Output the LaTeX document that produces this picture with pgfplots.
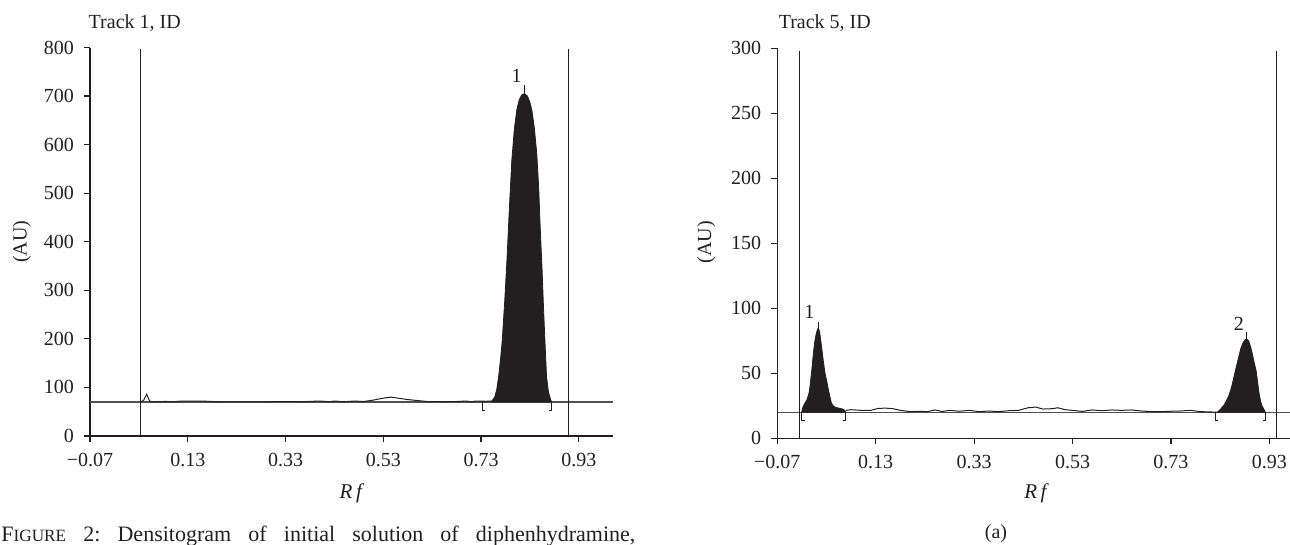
\documentclass[border=0pt]{standalone}
\usepackage{fontspec}
\setmainfont{Liberation Serif}
\usepackage{pgfplots}
\pgfplotsset{compat=1.18}
\definecolor{ink}{RGB}{35,31,32}
\definecolor{base}{RGB}{80,80,80}
\pgfplotsset{dens/.style={
  scale only axis, axis x line=bottom, axis y line=left,
  axis line style={-, line width=0.6pt, ink},
  tick align=outside, major tick length=3pt,
  tick style={line width=0.6pt, ink},
  ticklabel style={font=\fontsize{10}{12}\selectfont, text=ink},
  /pgf/number format/assume math mode=true,
  xtick={-0.07,0.13,0.33,0.53,0.73,0.93},
  xticklabels={−0.07,0.13,0.33,0.53,0.73,0.93},
  xticklabel style={yshift=-2pt},
  yticklabel style={xshift=-1.5pt},
  minor tick num=0,
}}
\begin{document}
\frenchspacing
\begin{tikzpicture}
\useasboundingbox (0,0) rectangle (645pt,272.5pt);
% ---------- left axis ----------
\begin{axis}[dens, at={(45pt,54.5pt)}, anchor=south west,
  width=261.5pt, height=194.25pt,
  xmin=-0.07, xmax=1.0, ymin=0, ymax=800,
  ytick={0,100,...,800}]
\addplot[base, line width=0.6pt] coordinates {(-0.07,70) (1.0,70)};
\addplot[ink, line width=0.6pt] coordinates {(0.034,0) (0.034,797)};
\addplot[ink, line width=0.6pt] coordinates {(0.909,0) (0.909,797)};
\addplot[ink, line width=0.5pt] coordinates {
(0.034,70) (0.040,74) (0.046,86) (0.052,72) (0.058,70) (0.065,71) (0.075,70.5)
(0.085,71.5) (0.095,70) (0.105,71) (0.12,72) (0.14,72) (0.16,72) (0.18,71)
(0.20,70.5) (0.25,70.5) (0.30,70.5) (0.33,71) (0.36,70.5) (0.40,72) (0.42,70.5)
(0.43,72) (0.45,70.5) (0.47,72) (0.49,71) (0.51,74) (0.53,78) (0.546,80)
(0.56,78) (0.58,75) (0.60,73) (0.62,71) (0.65,70.5) (0.68,71) (0.70,72)
(0.71,70.5) (0.72,72) (0.74,71.5) (0.752,72)};
\addplot[fill=ink, draw=ink, line width=0.4pt] coordinates {
(0.752,70) (0.752,72) (0.758,80) (0.762,95) (0.766,122) (0.770,160) (0.773,191)
(0.778,270) (0.783,362) (0.788,470) (0.793,568) (0.798,630) (0.803,671)
(0.808,692) (0.813,702) (0.819,705) (0.825,700) (0.830,687) (0.834,671)
(0.839,635) (0.844,582) (0.848,510) (0.851,431) (0.855,340) (0.858,259)
(0.861,190) (0.864,122) (0.868,90) (0.873,73) (0.875,70)} -- cycle;
\addplot[ink, line width=0.5pt] coordinates {(0.819,705) (0.819,722)};
\addplot[ink, line width=0.5pt] coordinates {(0.738,53) (0.732,53) (0.732,70)};
\addplot[ink, line width=0.5pt] coordinates {(0.869,53) (0.875,53) (0.875,70)};
\node[font=\fontsize{10}{12}\selectfont, text=ink] at (axis cs:0.803,742) {1};
\end{axis}
% ---------- right axis ----------
\begin{axis}[dens, at={(388.65pt,53.35pt)}, anchor=south west,
  width=258.3pt, height=195pt,
  xmin=-0.07, xmax=0.98, ymin=0, ymax=300,
  ytick={0,50,...,300}]
\addplot[base, line width=0.6pt] coordinates {(-0.07,20) (0.98,20)};
\addplot[ink, line width=0.5pt] coordinates {(-0.0245,0) (-0.0245,298)};
\addplot[ink, line width=0.6pt] coordinates {(0.945,0) (0.945,298)};
\addplot[fill=ink, draw=ink, line width=0.4pt] coordinates {
(-0.0204,20) (-0.018,24) (-0.014,27) (-0.010,29.5) (-0.006,34) (-0.0036,39.7)
(0.000,52) (0.0032,65) (0.006,74) (0.0086,79.5) (0.011,83) (0.0133,85)
(0.016,82) (0.020,70.5) (0.024,58) (0.027,50) (0.031,43) (0.034,37)
(0.037,32) (0.040,27) (0.044,25) (0.047,24) (0.052,23.5) (0.057,23)
(0.063,22.5) (0.067,21.5) (0.069,20)} -- cycle;
\addplot[ink, line width=0.5pt] coordinates {
(0.069,21.5) (0.08,22) (0.10,21.5) (0.12,21.5) (0.135,23) (0.15,23.2)
(0.165,22.8) (0.18,21.5) (0.20,20.5) (0.22,20.8) (0.235,20.5) (0.25,21.8)
(0.265,20.6) (0.28,21.5) (0.30,20.8) (0.32,21.5) (0.34,20.5) (0.36,21)
(0.38,20.5) (0.40,21.2) (0.42,21.5) (0.44,23.5) (0.455,24) (0.47,22.5)
(0.49,22.8) (0.50,23.5) (0.515,22) (0.53,21.5) (0.55,20.7) (0.57,21.8)
(0.59,21.2) (0.61,21.8) (0.63,21.5) (0.65,21.8) (0.67,21) (0.69,20.5)
(0.71,20.5) (0.73,20.8) (0.75,21) (0.77,21.5) (0.79,20.5) (0.81,20.3) (0.824,20)};
\addplot[fill=ink, draw=ink, line width=0.4pt] coordinates {
(0.824,20) (0.830,22) (0.838,25.6) (0.843,29) (0.848,33) (0.853,39) (0.858,47)
(0.863,55) (0.868,63) (0.872,69) (0.876,73) (0.880,75.5) (0.884,76.5)
(0.888,75) (0.892,70.5) (0.896,64) (0.900,57) (0.903,52.5) (0.906,44)
(0.909,35) (0.912,29) (0.915,25) (0.918,23) (0.921,21) (0.922,20)} -- cycle;
\addplot[ink, line width=0.5pt] coordinates {(0.0133,85) (0.0133,89.5)};
\addplot[ink, line width=0.5pt] coordinates {(0.884,76.5) (0.884,81.5)};
\addplot[ink, line width=0.5pt] coordinates {(-0.014,14) (-0.020,14) (-0.020,20)};
\addplot[ink, line width=0.5pt] coordinates {(0.063,14) (0.0696,14) (0.0696,20)};
\addplot[ink, line width=0.5pt] coordinates {(0.826,14) (0.820,14) (0.820,20)};
\addplot[ink, line width=0.5pt] coordinates {(0.917,14) (0.923,14) (0.923,20)};
\node[font=\fontsize{10}{12}\selectfont, text=ink] at (axis cs:-0.005,97) {1};
\node[font=\fontsize{10}{12}\selectfont, text=ink] at (axis cs:0.868,88) {2};
\end{axis}
% ---------- texts ----------
\begin{scope}[every node/.style={text=ink, inner sep=0pt}]
\node[anchor=base west, font=\fontsize{10}{12}\selectfont] at (44.15pt,258.35pt) {Track 1, ID};
\node[anchor=base west, font=\fontsize{10}{12}\selectfont] at (389.2pt,258.35pt) {Track 5, ID};
\node[rotate=90, font=\fontsize{10}{12}\selectfont] at (10.85pt,151.65pt) {(AU)};
\node[rotate=90, font=\fontsize{10}{12}\selectfont] at (353.2pt,151.3pt) {(AU)};
\node[font=\fontsize{10.5}{12}\selectfont] at (176pt,26pt) {\textit{R\,f}};
\node[font=\fontsize{10.5}{12}\selectfont] at (518.3pt,26pt) {\textit{R\,f}};
\node[anchor=base, font=\fontsize{10}{12}\selectfont] at (498pt,3pt) {(a)};
\node[anchor=base west, font=\fontsize{11}{13}\selectfont] at (0.5pt,1.7pt)
  {\makebox[317pt][s]{F{\fontsize{8.6}{10}\selectfont IGURE} 2: Densitogram of initial solution of diphenhydramine,}};
\end{scope}
\end{tikzpicture}
\end{document}
